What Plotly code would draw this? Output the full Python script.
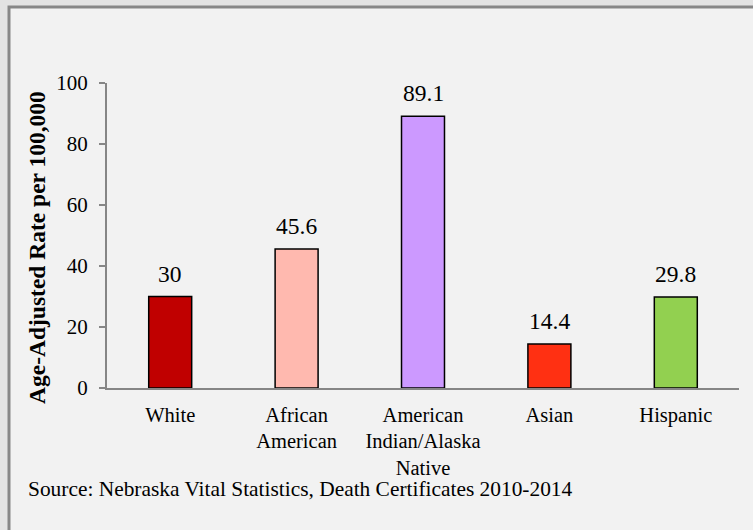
import plotly.graph_objects as go

# Age-adjusted rates by race/ethnicity
categories = ["White", "African<br>American", "American<br>Indian/Alaska<br>Native", "Asian", "Hispanic"]
rates = [30, 45.6, 89.1, 14.4, 29.8]
bar_colors = ["#C00000", "#FFB9AF", "#CC99FF", "#FF3012", "#92D050"]
y_ticks = [0, 20, 40, 60, 80, 100]

W, H = 753, 530
L, R, T, B = 107, 14, 83, 142
pw, ph = W - L - R, H - T - B

def px_x(x):
    return (x - L) / pw

def px_y(y):
    return 1 - (y - T) / ph

SERIF = "Liberation Serif"
AXIS_GREY = "#868686"

fig = go.Figure()
fig.add_trace(go.Bar(
    x=categories,
    y=rates,
    width=0.34,
    marker=dict(color=bar_colors, line=dict(color="#000000", width=1.5)),
    hoverinfo="skip",
))

# value labels above each bar
for c, v in zip(categories, rates):
    fig.add_annotation(
        x=c, y=v, text=f"{v:g}", showarrow=False,
        yanchor="bottom", yshift=8,
        font=dict(family=SERIF, size=23.5, color="#000000"),
    )

# rotated y-axis title
fig.add_annotation(
    xref="paper", yref="paper", x=px_x(37), y=px_y(248),
    text="<b>Age-Adjusted Rate per 100,000</b>", textangle=-90,
    showarrow=False, xanchor="center", yanchor="middle",
    font=dict(family=SERIF, size=23.5, color="#000000"),
)

# source note
fig.add_annotation(
    xref="paper", yref="paper", x=px_x(26), y=px_y(489),
    text="Source: Nebraska Vital Statistics, Death Certificates 2010-2014",
    showarrow=False, xanchor="left", yanchor="middle",
    font=dict(family=SERIF, size=21.4, color="#000000"),
)

# framed panel
fig.add_shape(
    type="rect", xref="paper", yref="paper", layer="below",
    x0=px_x(9), x1=px_x(W + 20), y0=px_y(H + 20), y1=px_y(7),
    fillcolor="#F2F2F2", line=dict(color="#878787", width=3),
)

fig.update_layout(
    width=W, height=H,
    margin=dict(l=L, r=R, t=T, b=B),
    paper_bgcolor="#E3E3E3",
    plot_bgcolor="rgba(0,0,0,0)",
    showlegend=False,
    font=dict(family=SERIF, size=21, color="#000000"),
)
fig.update_xaxes(
    showline=True, linecolor=AXIS_GREY, linewidth=2,
    ticks="", showgrid=False, zeroline=False,
    tickfont=dict(family=SERIF, size=20.5, color="#000000"),
    ticklabelstandoff=7,
)
fig.update_yaxes(
    range=[0, 100], tickvals=y_ticks, autorange=False,
    showline=True, linecolor=AXIS_GREY, linewidth=2,
    ticks="outside", ticklen=6, tickcolor=AXIS_GREY, tickwidth=2,
    showgrid=False, zeroline=False,
    tickfont=dict(family=SERIF, size=21, color="#000000"),
    ticklabelstandoff=7,
)

fig.write_html("out.html")
